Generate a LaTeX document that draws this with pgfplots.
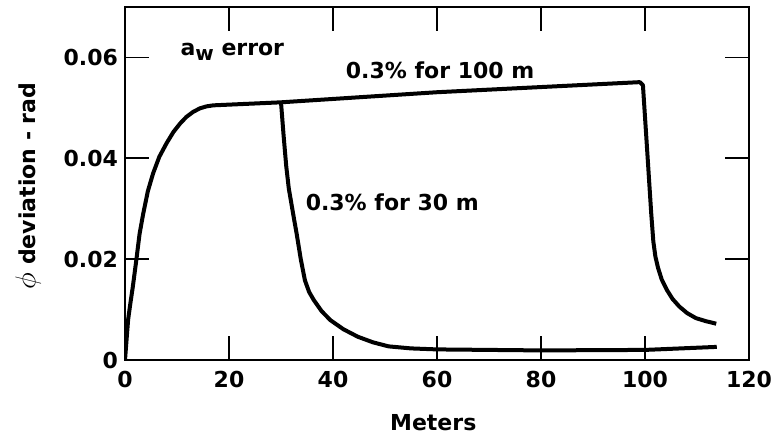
\documentclass[border=0pt]{standalone}
\usepackage{fontspec}
\setmainfont{DejaVu Sans}
\usepackage{pgfplots}
\pgfplotsset{compat=1.18}
\usetikzlibrary{calc}

\begin{document}
\begin{tikzpicture}
\begin{axis}[
  scale only axis,
  width=312pt, height=176.5pt,
  xmin=0, xmax=120, ymin=0, ymax=0.07,
  xtick={0,20,40,60,80,100,120},
  ytick={0,0.02,0.04,0.06},
  yticklabels={0,0.02,0.04,0.06},
  scaled y ticks=false,
  tick align=inside,
  major tick length=12pt,
  axis line style={line width=1pt},
  every tick/.style={line width=0.9pt, black},
  /pgf/number format/assume math mode=true,
  font=\fontsize{11}{13}\selectfont\bfseries,
  x tick label style={yshift=-2pt},
  xlabel={Meters},
  ylabel={{\fontsize{13.5}{14}\selectfont$\phi$} deviation - rad},
  xlabel style={at={(axis description cs:0.494,-0.178)}, anchor=center},
  ylabel style={at={(axis description cs:-0.155,0.493)}, anchor=center},
]
% 0.3% for 100 m
\addplot[line width=2pt, line join=round] coordinates {
  (0,0) (0.3,0.004) (0.6,0.008) (1,0.011) (1.5,0.0145) (2.2,0.020)
  (2.8,0.025) (3.5,0.029) (4.4,0.0335) (5.4,0.037) (6.6,0.0403)
  (8,0.043) (9.3,0.0452) (10.6,0.0469) (11.8,0.0482) (13.1,0.0492)
  (14.4,0.0499) (15.7,0.0503) (17,0.0505)
  (30,0.0511) (60,0.0531) (99,0.0551) (99.6,0.0545) (100.2,0.045)
  (100.7,0.037) (101.2,0.029) (101.6,0.0235) (102,0.0205)
  (102.5,0.0183) (103.2,0.0160) (104.2,0.0139) (105.3,0.0121)
  (106.6,0.0106) (108.1,0.0093) (109.8,0.0083) (111.7,0.0077)
  (113.7,0.0072)
};
% 0.3% for 30 m
\addplot[line width=2pt, line join=round] coordinates {
  (30,0.0511) (30.5,0.0445) (31,0.0385) (31.5,0.034) (32,0.031)
  (32.5,0.028) (33,0.0251) (33.8,0.020) (34.6,0.0158) (35.4,0.0135)
  (36.3,0.0119) (37.8,0.0097) (39.5,0.0079) (42,0.0061) (44.8,0.0046)
  (47.7,0.0035) (50.7,0.0027) (55,0.0023) (60,0.0021) (80,0.0019)
  (100,0.0020) (113.8,0.0026)
};
\node[anchor=base west, inner sep=0pt] at (axis cs:10.6,0.0604)
  {a\raisebox{-0.45ex}{\fontsize{10}{12}\selectfont w} error};
\node[anchor=center] at (axis cs:60.6,0.0574) {0.3\% for 100 m};
\node[anchor=center] at (axis cs:51.4,0.0312) {0.3\% for 30 m};
\end{axis}
\path ($(current axis.south west)+(-62.5pt,-41.5pt)$) rectangle
      ($(current axis.north east)+(15pt,3.5pt)$);
\end{tikzpicture}
\end{document}
